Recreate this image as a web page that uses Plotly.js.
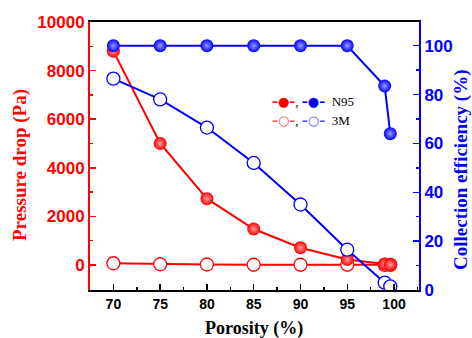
<!DOCTYPE html>
<html>
<head>
<meta charset="utf-8">
<script src="https://cdn.plot.ly/plotly-3.0.1.min.js"></script>
<style>html,body{margin:0;padding:0;background:#fff;}#chart{width:472px;height:338px;}</style>
</head>
<body>
<div id="chart"></div>
<script>
const porosity = [70, 75, 80, 85, 90, 95, 99, 99.6];
const n95Pressure = [8800, 5000, 2730, 1480, 710, 230, 40, 10];
const n95Efficiency = [100, 100, 100, 100, 100, 100, 83.5, 64];
const m3Pressure = [70, 30, 20, 10, 10, 10, 5, 5];
const m3Efficiency = [86.5, 78, 66.5, 52, 35, 16.5, 3, 1.5];
const xTicks = [70, 75, 80, 85, 90, 95, 100];
const seriesNames = ['N95', '3M'];

const RED = '#ff0000';
const BLUE = '#0000ff';
const serif = 'Liberation Serif, Times New Roman, serif';
const sans = 'Liberation Sans, Arial, sans-serif';

const traces = [
  {x: porosity, y: m3Pressure, yaxis: 'y', type: 'scatter', mode: 'lines+markers', name: '3M pressure',
   line: {color: RED, width: 2}, marker: {symbol: 'circle', size: 13, color: 'white', line: {color: RED, width: 1.3}}},
  {x: porosity, y: n95Pressure, yaxis: 'y', type: 'scatter', mode: 'lines+markers', name: 'N95 pressure',
   line: {color: RED, width: 2}, marker: {symbol: 'circle', size: 13, color: RED, gradient: {type: 'radial', color: '#ff9a9a'}, line: {width: 0}}},
  {x: porosity, y: m3Efficiency, yaxis: 'y2', type: 'scatter', mode: 'lines+markers', name: '3M efficiency',
   line: {color: BLUE, width: 2}, marker: {symbol: 'circle', size: 13, color: 'white', line: {color: BLUE, width: 1.3}}},
  {x: porosity, y: n95Efficiency, yaxis: 'y2', type: 'scatter', mode: 'lines+markers', name: 'N95 efficiency',
   line: {color: BLUE, width: 2}, marker: {symbol: 'circle', size: 13, color: BLUE, gradient: {type: 'radial', color: '#9a9aff'}, line: {width: 0}}}
];

function legendRow(sym, cRed, cBlue, label) {
  const s = function (c) {
    return '<span style="color:' + c + ';font-family:DejaVu Sans;font-weight:bold;font-size:12px">–</span>' +
           '<span style="color:' + c + ';font-family:DejaVu Sans;font-size:13px">' + sym + '</span>' +
           '<span style="color:' + c + ';font-family:DejaVu Sans;font-weight:bold;font-size:12px">–</span>';
  };
  return s(cRed) + ', ' + s(cBlue) + '  ' + label;
}

const annotations = [
  {text: 'Pressure drop (Pa)', xref: 'paper', yref: 'paper', x: -0.2128, y: 0.4664, xanchor: 'center', yanchor: 'middle',
   textangle: -90, showarrow: false, font: {family: serif, size: 19, color: RED, weight: 'bold'}},
  {text: 'Collection efficiency (%)', xref: 'paper', yref: 'paper', x: 1.1277, y: 0.4478, xanchor: 'center', yanchor: 'middle',
   textangle: -90, showarrow: false, font: {family: serif, size: 19, color: BLUE, weight: 'bold'}},
  {text: 'Porosity (%)', xref: 'paper', yref: 'paper', x: 0.4985, y: -0.1418, xanchor: 'center', yanchor: 'middle',
   showarrow: false, font: {family: serif, size: 18, color: '#000', weight: 'bold'}},
  {text: legendRow('●', RED, BLUE, seriesNames[0]), xref: 'paper', yref: 'paper', x: 0.547, y: 0.7015, xanchor: 'left', yanchor: 'middle',
   showarrow: false, font: {family: serif, size: 13, color: '#000'}},
  {text: legendRow('○', '#ff5050', '#5050ff', seriesNames[1]), xref: 'paper', yref: 'paper', x: 0.547, y: 0.6306, xanchor: 'left', yanchor: 'middle',
   showarrow: false, font: {family: serif, size: 13, color: '#000'}}
];

const layout = {
  width: 472, height: 338,
  margin: {l: 90, r: 53, t: 22, b: 48},
  paper_bgcolor: '#fff', plot_bgcolor: '#fff',
  showlegend: false,
  annotations: annotations,
  xaxis: {
    range: [67.5, 102.67], tickvals: xTicks, ticks: 'inside', ticklen: 6, tickwidth: 1.5, tickcolor: '#000',
    minor: {dtick: 2.5, tick0: 70, ticks: 'inside', ticklen: 3, tickwidth: 1.5, tickcolor: '#000', showgrid: false},
    showline: true, linecolor: '#000', linewidth: 2, mirror: true, showgrid: false, zeroline: false,
    tickfont: {family: sans, size: 14, color: '#000', weight: 'bold'}
  },
  yaxis: {
    range: [-1030, 10000], dtick: 2000, tick0: 0, tickformat: 'd', ticks: 'inside', ticklen: 6, tickwidth: 1.5, tickcolor: RED,
    minor: {dtick: 1000, tick0: 0, ticks: 'inside', ticklen: 3, tickwidth: 1.5, tickcolor: RED, showgrid: false},
    showline: true, linecolor: RED, linewidth: 2, showgrid: false, zeroline: false,
    tickfont: {family: sans, size: 17, color: RED, weight: 'bold'}
  },
  yaxis2: {
    range: [0, 109.7], dtick: 20, tick0: 0, ticks: 'inside', ticklen: 6, tickwidth: 1.5, tickcolor: BLUE,
    minor: {dtick: 10, tick0: 0, ticks: 'inside', ticklen: 3, tickwidth: 1.5, tickcolor: BLUE, showgrid: false},
    overlaying: 'y', side: 'right', anchor: 'x',
    showline: true, linecolor: BLUE, linewidth: 2, showgrid: false, zeroline: false,
    tickfont: {family: sans, size: 17, color: BLUE, weight: 'bold'}
  }
};

Plotly.newPlot('chart', traces, layout, {displayModeBar: false, staticPlot: true});
</script>
</body>
</html>
